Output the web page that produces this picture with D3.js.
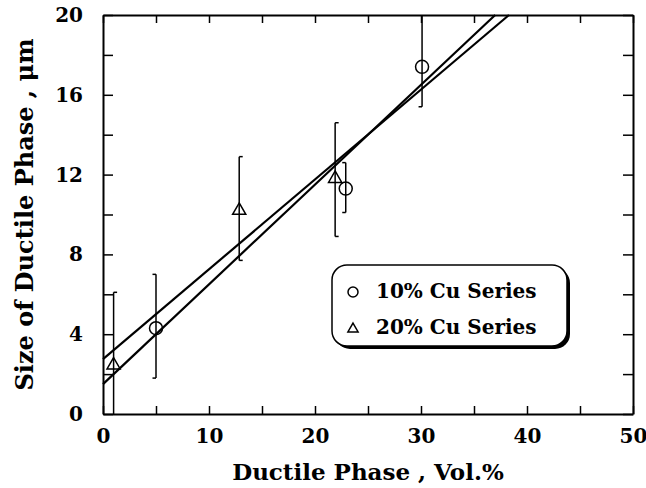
<!DOCTYPE html>
<html>
<head>
<meta charset="utf-8">
<script src="https://cdn.jsdelivr.net/npm/d3@7"></script>
<style>
  body { margin: 0; background: #fff; }
  svg { display: block; }
  text { font-family: "DejaVu Serif", "Liberation Serif", serif; font-weight: bold; fill: #000; }
</style>
</head>
<body>
<svg id="chart"></svg>
<script>
// ~~~~~~~~~ DATA ~~~~~~~~~
var xTickValues = [0, 10, 20, 30, 40, 50];
var yTickValues = [0, 4, 8, 12, 16, 20];

// 10% Cu series (circles)
var cu10X = [5, 22.9, 30.1];
var cu10Y = [4.3, 11.3, 17.4];
var cu10Lo = [1.8, 10.1, 15.4];
var cu10Hi = [7.0, 12.6, 20];

// 20% Cu series (triangles)
var cu20X = [1, 12.85, 21.9];
var cu20Y = [2.45, 10.2, 11.8];
var cu20Lo = [0, 7.7, 8.9];
var cu20Hi = [6.1, 12.9, 14.6];

// fitted lines, start and end points
var fitX = [[0, 37.0], [0, 38.3]];
var fitY = [[1.5, 20], [2.75, 20]];

var legendLabels = ["10% Cu Series", "20% Cu Series"];

// ~~~~~~~~~ SVG SETUP ~~~~~~~~~
var width = 646, height = 488;
var margin = {left: 103, top: 15, right: 13, bottom: 74};
var innerW = width - margin.left - margin.right;
var innerH = height - margin.top - margin.bottom;

var svg = d3.select("#chart").attr("width", width).attr("height", height);
var g = svg.append("g").attr("transform", "translate(" + margin.left + "," + margin.top + ")");

var x = d3.scaleLinear().domain([0, 50]).range([0, innerW]);
var y = d3.scaleLinear().domain([0, 20]).range([innerH, 0]);

function fmtX(d) { return xTickValues.indexOf(d) >= 0 ? d : ""; }
function fmtY(d) { return yTickValues.indexOf(d) >= 0 ? d : ""; }

// axes, ticks point inward on every side
g.append("g").attr("transform", "translate(0," + innerH + ")")
  .call(d3.axisBottom(x).tickValues(d3.range(0, 51, 5)).tickSizeInner(-8).tickSizeOuter(0).tickPadding(15).tickFormat(fmtX));
g.append("g")
  .call(d3.axisLeft(y).tickValues(d3.range(0, 21, 2)).tickSizeInner(-10).tickSizeOuter(0).tickPadding(20).tickFormat(fmtY));
g.append("g")
  .call(d3.axisTop(x).tickValues(d3.range(0, 51, 5)).tickSizeInner(-8).tickSizeOuter(0).tickFormat(""));
g.append("g").attr("transform", "translate(" + innerW + ",0)")
  .call(d3.axisRight(y).tickValues(d3.range(0, 21, 2)).tickSizeInner(-10).tickSizeOuter(0).tickFormat(""));

g.selectAll(".domain").attr("stroke", "#000").attr("stroke-width", 2);
g.selectAll(".tick line").attr("stroke", "#000").attr("stroke-width", 1.5);
g.selectAll(".tick text").attr("font-size", 20).attr("font-family", null).attr("fill", "#000");

// axis titles
svg.append("text")
  .attr("x", margin.left + innerW / 2).attr("y", 480)
  .attr("text-anchor", "middle").attr("font-size", 23)
  .text("Ductile Phase , Vol.%");
svg.append("text")
  .attr("transform", "translate(33," + (margin.top + innerH / 2) + ") rotate(-90)")
  .attr("text-anchor", "middle").attr("font-size", 24)
  .text("Size of Ductile Phase , μm");

// ~~~~~~~~~ FIT LINES ~~~~~~~~~
var plot = g.append("g");
fitX.forEach(function(xs, i) {
  var pts = xs.map(function(v, j) { return [x(v), y(fitY[i][j])]; });
  plot.append("path")
    .attr("d", d3.line()(pts))
    .attr("fill", "none").attr("stroke", "#000").attr("stroke-width", 2.2);
});

// ~~~~~~~~~ ERROR BARS + MARKERS ~~~~~~~~~
function errorBars(xs, lo, hi, capDir) {
  xs.forEach(function(v, i) {
    var px = x(v);
    plot.append("line").attr("x1", px).attr("x2", px)
      .attr("y1", y(lo[i])).attr("y2", y(hi[i]))
      .attr("stroke", "#000").attr("stroke-width", 1.5);
    [lo[i], hi[i]].forEach(function(e) {
      if (e <= 0 || e >= 20) return;
      plot.append("line").attr("x1", px).attr("x2", px + capDir * 3.5)
        .attr("y1", y(e)).attr("y2", y(e))
        .attr("stroke", "#000").attr("stroke-width", 1.5);
    });
  });
}
errorBars(cu10X, cu10Lo, cu10Hi, -1);
errorBars(cu20X, cu20Lo, cu20Hi, 1);

var circleSym = d3.symbol().type(d3.symbolCircle).size(Math.PI * 6.5 * 6.5);
var triSym = d3.symbol().type(d3.symbolTriangle).size(75);

plot.selectAll(".c10").data(cu10X).enter().append("path")
  .attr("d", circleSym)
  .attr("transform", function(d, i) { return "translate(" + x(d) + "," + y(cu10Y[i]) + ")"; })
  .attr("fill", "none").attr("stroke", "#000").attr("stroke-width", 1.5);
plot.selectAll(".c20").data(cu20X).enter().append("path")
  .attr("d", triSym)
  .attr("transform", function(d, i) { return "translate(" + x(d) + "," + y(cu20Y[i]) + ")"; })
  .attr("fill", "none").attr("stroke", "#000").attr("stroke-width", 1.5);

// ~~~~~~~~~ LEGEND ~~~~~~~~~
var lg = svg.append("g").attr("transform", "translate(332,265)");
lg.append("rect").attr("x", 3).attr("y", 3).attr("width", 235).attr("height", 81)
  .attr("rx", 15).attr("fill", "#000");
lg.append("rect").attr("width", 235).attr("height", 81)
  .attr("rx", 15).attr("fill", "#fff").attr("stroke", "#000").attr("stroke-width", 1.5);

var legSyms = [d3.symbol().type(d3.symbolCircle).size(Math.PI * 25), d3.symbol().type(d3.symbolTriangle).size(45)];
legendLabels.forEach(function(label, i) {
  var row = lg.append("g").attr("transform", "translate(0," + (i * 36) + ")");
  row.append("path").attr("d", legSyms[i])
    .attr("transform", "translate(21," + (27 + (i ? 1 : 0)) + ")")
    .attr("fill", "none").attr("stroke", "#000").attr("stroke-width", 1.5);
  row.append("text").attr("x", 44).attr("y", 33).attr("font-size", 20).text(label);
});
</script>
</body>
</html>
